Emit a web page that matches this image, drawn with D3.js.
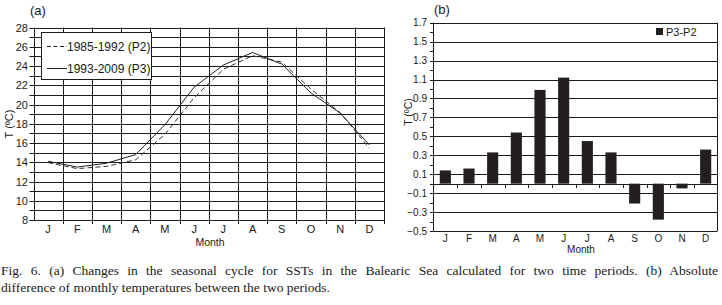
<!DOCTYPE html>
<html><head><meta charset="utf-8">
<script src="https://cdn.jsdelivr.net/npm/d3@7"></script>
<style>body{margin:0;background:#fff}svg{display:block}</style>
</head><body>
<svg id="c" width="722" height="305"></svg>
<script>
const months = ["J","F","M","A","M","J","J","A","S","O","N","D"];
const p2 = [13.96,13.34,13.57,14.26,16.9,20.7,23.65,25.07,24.4,21.6,19.15,15.45];
const p3 = [14.1,13.5,13.9,14.8,17.9,21.8,24.1,25.4,24.2,21.2,19.1,15.8];
const diff = [0.14,0.16,0.33,0.54,0.99,1.12,0.45,0.33,-0.21,-0.38,-0.05,0.36];
const yTicksA = [8,10,12,14,16,18,20,22,24,26,28];
const yTicksB = [-0.5,-0.3,-0.1,0.1,0.3,0.5,0.7,0.9,1.1,1.3,1.5,1.7];
const legendA = ["1985-1992 (P2)","1993-2009 (P3)"];
const legendB = "P3-P2";
const caption = ["Fig. 6. (a) Changes in the seasonal cycle for SSTs in the Balearic Sea calculated for two time periods. (b) Absolute",
                 "difference of monthly temperatures between the two periods."];

const svg = d3.select("#c");
const F = "Arial, 'Liberation Sans', sans-serif";
const ink = "#1a1a1a";
const idx = d3.range(12);

// ---------- Panel (a) ----------
const ax = d3.scaleBand().domain(idx).range([33.5, 384]);
const ay = d3.scaleLinear().domain([8, 28]).range([220, 27.5]);
const ga = svg.append("g");
ga.selectAll("line.h").data(d3.range(8, 29)).join("line")
  .attr("x1", 29.5).attr("x2", 384).attr("y1", d => Math.round(ay(d)) + 0.5).attr("y2", d => Math.round(ay(d)) + 0.5)
  .attr("stroke", ink).attr("stroke-width", 1);
ga.selectAll("line.v").data(d3.range(13)).join("line")
  .attr("x1", d => Math.round(ax.range()[0] + d * ax.step()) + 0.5)
  .attr("x2", d => Math.round(ax.range()[0] + d * ax.step()) + 0.5)
  .attr("y1", ay(28)).attr("y2", d => d === 0 ? 220.5 : 224)
  .attr("stroke", ink).attr("stroke-width", 1);
ga.selectAll("text.yt").data(yTicksA).join("text")
  .attr("x", 28).attr("y", d => ay(d) + 4).attr("text-anchor", "end")
  .attr("font-family", F).attr("font-size", 11).attr("fill", ink).text(d => d);
ga.selectAll("text.xt").data(idx).join("text")
  .attr("x", d => ax(d) + ax.bandwidth() / 2).attr("y", 233).attr("text-anchor", "middle")
  .attr("font-family", F).attr("font-size", 11).attr("fill", ink).text(d => months[d]);
ga.append("text").attr("x", 210).attr("y", 246).attr("text-anchor", "middle")
  .attr("font-family", F).attr("font-size", 10.5).attr("fill", ink).text("Month");
ga.append("text").attr("transform", "translate(13,124) rotate(-90)").attr("text-anchor", "middle")
  .attr("font-family", F).attr("font-size", 11).attr("fill", ink).text("T (ºC)");
ga.append("text").attr("x", 30).attr("y", 15)
  .attr("font-family", F).attr("font-size", 13).attr("fill", ink).text("(a)");
const line = d3.line().x((d, i) => ax(i) + ax.bandwidth() / 2).y(d => ay(d));
ga.append("path").attr("d", line(p2)).attr("fill", "none").attr("stroke", "#333").attr("stroke-width", 1).attr("stroke-dasharray", "5,3");
ga.append("path").attr("d", line(p3)).attr("fill", "none").attr("stroke", "#222").attr("stroke-width", 1);
const lg = ga.append("g");
lg.append("rect").attr("x", 41.5).attr("y", 32.5).attr("width", 110).attr("height", 47).attr("fill", "#fff").attr("stroke", ink);
legendA.forEach((t, i) => {
  const yy = 46.5 + i * 22;
  lg.append("line").attr("x1", 47).attr("x2", 67).attr("y1", yy).attr("y2", yy)
    .attr("stroke", "#222").attr("stroke-dasharray", i === 0 ? "4,2.5" : null);
  lg.append("text").attr("x", 67).attr("y", yy + 4).attr("font-family", F).attr("font-size", 12).attr("fill", ink).text(t);
});

// ---------- Panel (b) ----------
const bx = d3.scaleBand().domain(idx).range([433.5, 717.5]).paddingInner(0.53).paddingOuter(0.265);
const by = d3.scaleLinear().domain([-0.5, 1.7]).range([231, 22.7]);
const gb = svg.append("g");
gb.selectAll("line.t").data(d3.range(-5, 18)).join("line")
  .attr("x1", 430).attr("x2", 433.5).attr("y1", d => Math.round(by(d / 10)) + 0.5).attr("y2", d => Math.round(by(d / 10)) + 0.5)
  .attr("stroke", ink);
gb.selectAll("line.h").data(yTicksB).join("line")
  .attr("x1", 433.5).attr("x2", 717.5).attr("y1", d => Math.round(by(d)) + 0.5).attr("y2", d => Math.round(by(d)) + 0.5)
  .attr("stroke", ink);
gb.append("line").attr("x1", 433.5).attr("x2", 433.5).attr("y1", by(1.7)).attr("y2", by(-0.5)).attr("stroke", ink);
gb.append("line").attr("x1", 717.5).attr("x2", 717.5).attr("y1", by(1.7)).attr("y2", by(-0.5)).attr("stroke", ink);
const z = Math.round(by(0)) + 0.5;
gb.append("line").attr("x1", 433.5).attr("x2", 717.5).attr("y1", z).attr("y2", z).attr("stroke", ink);
gb.selectAll("line.bt").data(d3.range(1, 12)).join("line")
  .attr("x1", d => Math.round(433.5 + d * bx.step()) + 0.5).attr("x2", d => Math.round(433.5 + d * bx.step()) + 0.5)
  .attr("y1", z).attr("y2", z + 3.5).attr("stroke", ink);
gb.selectAll("rect.bar").data(diff).join("rect")
  .attr("x", (d, i) => bx(i)).attr("width", bx.bandwidth())
  .attr("y", d => by(Math.max(0, d))).attr("height", d => Math.abs(by(d) - by(0)))
  .attr("fill", "#231f20");
gb.selectAll("text.yt").data(yTicksB).join("text")
  .attr("x", 427).attr("y", d => by(d) + 3.5).attr("text-anchor", "end")
  .attr("font-family", F).attr("font-size", 10).attr("fill", ink)
  .text(d => (d < 0 ? "\u2212" : "") + Math.abs(d).toFixed(1));
gb.selectAll("text.xt").data(idx).join("text")
  .attr("x", d => bx(d) + bx.bandwidth() / 2).attr("y", 241.5).attr("text-anchor", "middle")
  .attr("font-family", F).attr("font-size", 10).attr("fill", ink).text(d => months[d]);
gb.append("text").attr("x", 581).attr("y", 253).attr("text-anchor", "middle")
  .attr("font-family", F).attr("font-size", 10).attr("fill", ink).text("Month");
gb.append("text").attr("transform", "translate(412,112) rotate(-90)").attr("text-anchor", "middle")
  .attr("font-family", F).attr("font-size", 10.5).attr("fill", ink).text("T (ºC)");
gb.append("text").attr("x", 434).attr("y", 14)
  .attr("font-family", F).attr("font-size", 13).attr("fill", ink).text("(b)");
gb.append("rect").attr("x", 656).attr("y", 28).attr("width", 7).attr("height", 7).attr("fill", "#231f20");
gb.append("text").attr("x", 666).attr("y", 35.5).attr("font-family", F).attr("font-size", 11).attr("fill", ink).text(legendB);

// ---------- Caption (first line justified) ----------
caption.forEach((t, i) => {
  const tx = svg.append("text").attr("x", 1).attr("y", 275 + i * 17)
    .attr("font-family", "'Liberation Serif', 'Times New Roman', serif").attr("font-size", 13.5).attr("fill", ink).text(t);
  if (i === 0) {
    const w = tx.node().getComputedTextLength();
    const spaces = (t.match(/ /g) || []).length;
    const extra = Math.max(0, (717 - w) / spaces);
    tx.attr("word-spacing", extra);
  }
});
</script>
</body></html>
